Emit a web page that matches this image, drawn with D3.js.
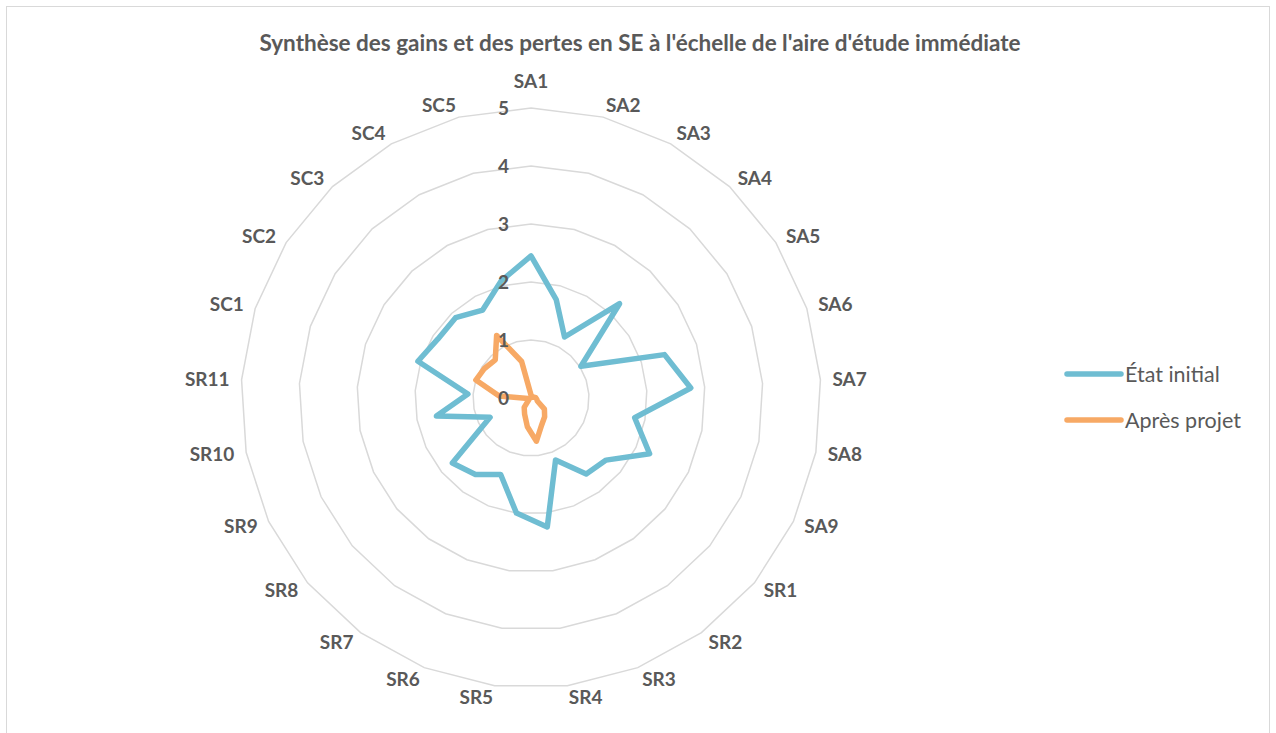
<!DOCTYPE html>
<html>
<head>
<meta charset="utf-8">
<script src="https://cdn.jsdelivr.net/npm/d3@7"></script>
<style>
  html, body { margin: 0; padding: 0; background: #ffffff; }
  svg { display: block; }
  text { font-family: Lato, "Open Sans", sans-serif; fill: #595959; }
</style>
</head>
<body>
<svg id="chart" width="1276" height="733"></svg>
<script>
// Ecosystem services scored on a 0–5 scale
const categories = [
  "SA1", "SA2", "SA3", "SA4", "SA5", "SA6", "SA7", "SA8", "SA9",
  "SR1", "SR2", "SR3", "SR4", "SR5", "SR6", "SR7", "SR8", "SR9", "SR10", "SR11",
  "SC1", "SC2", "SC3", "SC4", "SC5"
];
const etatInitial = [
  2.45, 1.75, 1.2, 2.23, 1.02, 2.42, 2.76, 1.82, 2.26,
  1.68, 1.62, 1.15, 2.24, 2.0, 1.42, 1.63, 1.76, 0.78, 1.66, 1.09,
  2.05, 1.9, 1.9, 1.73, 2.08
];
const apresProjet = [
  0.05, 0.02, 0.02, 0.02, 0.02, 0.05, 0.08, 0.1, 0.12,
  0.3, 0.4, 0.5, 0.75, 0.5, 0.3, 0.2, 0.05, 0.05, 0.05, 0.55,
  1.0, 0.95, 0.9, 1.23, 0.65
];
const tickValues = [0, 1, 2, 3, 4, 5];
const seriesNames = ["État initial", "Après projet"];
const seriesColors = ["#6fbdd2", "#f7a965"];

const W = 1276, H = 733;
const cx = 531, cy = 398, R = 290;
const svg = d3.select("#chart");

// chart frame
svg.append("rect")
  .attr("x", 6.5).attr("y", 6.5)
  .attr("width", 1263).attr("height", 740)
  .attr("fill", "#ffffff")
  .attr("stroke", "#d9d9d9").attr("stroke-width", 1);

svg.append("text")
  .attr("x", 640).attr("y", 51)
  .attr("text-anchor", "middle")
  .style("font-weight", "700")
  .style("font-size", "22.5px")
  .text("Synthèse des gains et des pertes en SE à l'échelle de l'aire d'étude immédiate");

const r = d3.scaleLinear().domain([0, 5]).range([0, R]);
const angle = d3.scaleLinear().domain([0, categories.length]).range([0, 2 * Math.PI]);

const g = svg.append("g").attr("transform", `translate(${cx},${cy})`);

// concentric polygon grid
const ringLine = v => d3.lineRadial()
  .angle((d, i) => angle(i))
  .radius(() => r(v))
  .curve(d3.curveLinearClosed)(categories);

g.selectAll("path.ring")
  .data(tickValues.filter(v => v > 0))
  .join("path")
  .attr("class", "ring")
  .attr("d", v => ringLine(v))
  .attr("fill", "none")
  .attr("stroke", "#d9d9d9")
  .attr("stroke-width", 1.5);

// category labels
const labelSize = 19;
const gap = 12;
g.selectAll("text.cat")
  .data(categories)
  .join("text")
  .attr("class", "cat")
  .style("font-weight", "700")
  .style("font-size", labelSize + "px")
  .each(function (d, i) {
    const a = angle(i), s = Math.sin(a), c = Math.cos(a);
    const sel = d3.select(this);
    let x, y, anchor;
    if (Math.abs(s) < 0.05) {
      x = 0; y = -(r(5) + 27); anchor = "middle";
    } else {
      x = (r(5) + gap) * s;
      y = -(r(5) + gap) * c;
      anchor = s > 0 ? "start" : "end";
    }
    sel.attr("x", x).attr("y", y + 0.358 * labelSize)
      .attr("text-anchor", anchor).text(d);
  });

// series
const seriesData = [etatInitial, apresProjet];
const radial = d3.lineRadial()
  .angle((d, i) => angle(i))
  .radius(d => r(d))
  .curve(d3.curveLinearClosed);

g.selectAll("path.series")
  .data(seriesData)
  .join("path")
  .attr("class", "series")
  .attr("d", d => radial(d))
  .attr("fill", "none")
  .attr("stroke", (d, i) => seriesColors[i])
  .attr("stroke-width", 5.5)
  .attr("stroke-linejoin", "round")
  .attr("stroke-linecap", "round");

// radial axis values
g.selectAll("text.tick")
  .data(tickValues)
  .join("text")
  .attr("class", "tick")
  .attr("x", -22)
  .attr("y", v => -r(v) + 0.358 * labelSize)
  .attr("text-anchor", "end")
  .style("font-weight", "700")
  .style("font-size", labelSize + "px")
  .text(v => v);

// legend
const legend = svg.append("g");
const legendY = [374, 420];
seriesNames.forEach((name, i) => {
  legend.append("line")
    .attr("x1", 1067).attr("x2", 1121)
    .attr("y1", legendY[i]).attr("y2", legendY[i])
    .attr("stroke", seriesColors[i])
    .attr("stroke-width", 5.5)
    .attr("stroke-linecap", "round");
  legend.append("text")
    .attr("x", 1125)
    .attr("y", legendY[i] + 0.358 * 21.5)
    .style("font-size", "21.5px")
    .text(name);
});
</script>
</body>
</html>
